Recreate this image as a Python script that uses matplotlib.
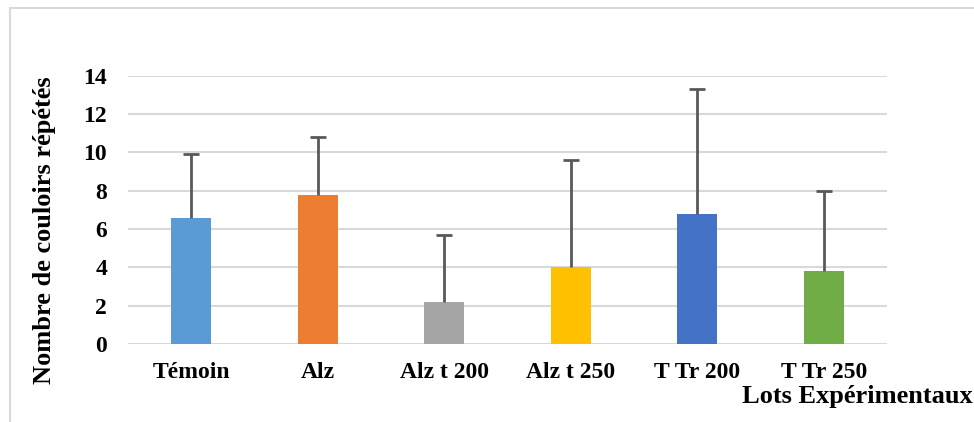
import matplotlib.pyplot as plt
from matplotlib.patches import Rectangle

categories = ['Témoin', 'Alz', 'Alz t 200', 'Alz t 250', 'T Tr 200', 'T Tr 250']
means = [6.6, 7.8, 2.2, 4.0, 6.8, 3.8]
errors = [3.3, 3.0, 3.5, 5.6, 6.5, 4.2]
colors = ['#5B9BD5', '#ED7D31', '#A5A5A5', '#FFC000', '#4472C4', '#70AD47']
yticks = [0, 2, 4, 6, 8, 10, 12, 14]

plt.rcParams['font.family'] = ['Liberation Serif', 'DejaVu Serif']

fig = plt.figure(figsize=(9.74, 4.22), dpi=100)

# outer frame of the chart area (only top and left visible)
fig.patches.append(Rectangle((10 / 974, -0.2), 1.2, 1.2 - 8 / 422,
                             transform=fig.transFigure, fill=False,
                             edgecolor='#d9d9d9', linewidth=1.5))

ax = fig.add_axes([128 / 974, 1 - 344 / 422, (887 - 128) / 974, (344 - 75.7) / 422])

x = range(len(categories))
ax.bar(x, means, width=0.32, color=colors, zorder=2)
eb = ax.errorbar(x, means, yerr=[[0] * len(errors), errors], fmt='none',
                 ecolor='#595959', elinewidth=2, capsize=6, capthick=2, zorder=3)
# only the upper caps
eb[1][0].set_visible(False)

ax.set_xlim(-0.5, len(categories) - 0.5)
ax.set_ylim(0, 14)
ax.set_yticks(yticks)
ax.set_yticklabels([str(t) for t in yticks], fontsize=17, fontweight='bold')
ax.set_xticks(list(x))
ax.set_xticklabels(categories, fontsize=17, fontweight='bold')
ax.tick_params(axis='both', length=0)
ax.tick_params(axis='y', pad=15)
ax.tick_params(axis='x', pad=13)

ax.grid(axis='y', color='#d9d9d9', linewidth=1.5, zorder=0)
ax.set_axisbelow(True)
for s in ax.spines.values():
    s.set_visible(False)

fig.text(45 / 974, 1 - 230 / 422, 'Nombre de couloirs répétés', rotation=90,
         ha='center', va='center', fontsize=19, fontweight='bold')
fig.text(973 / 974, 1 - 396 / 422, 'Lots Expérimentaux',
         ha='right', va='center', fontsize=19, fontweight='bold')

fig.savefig('out.png', dpi=100)
